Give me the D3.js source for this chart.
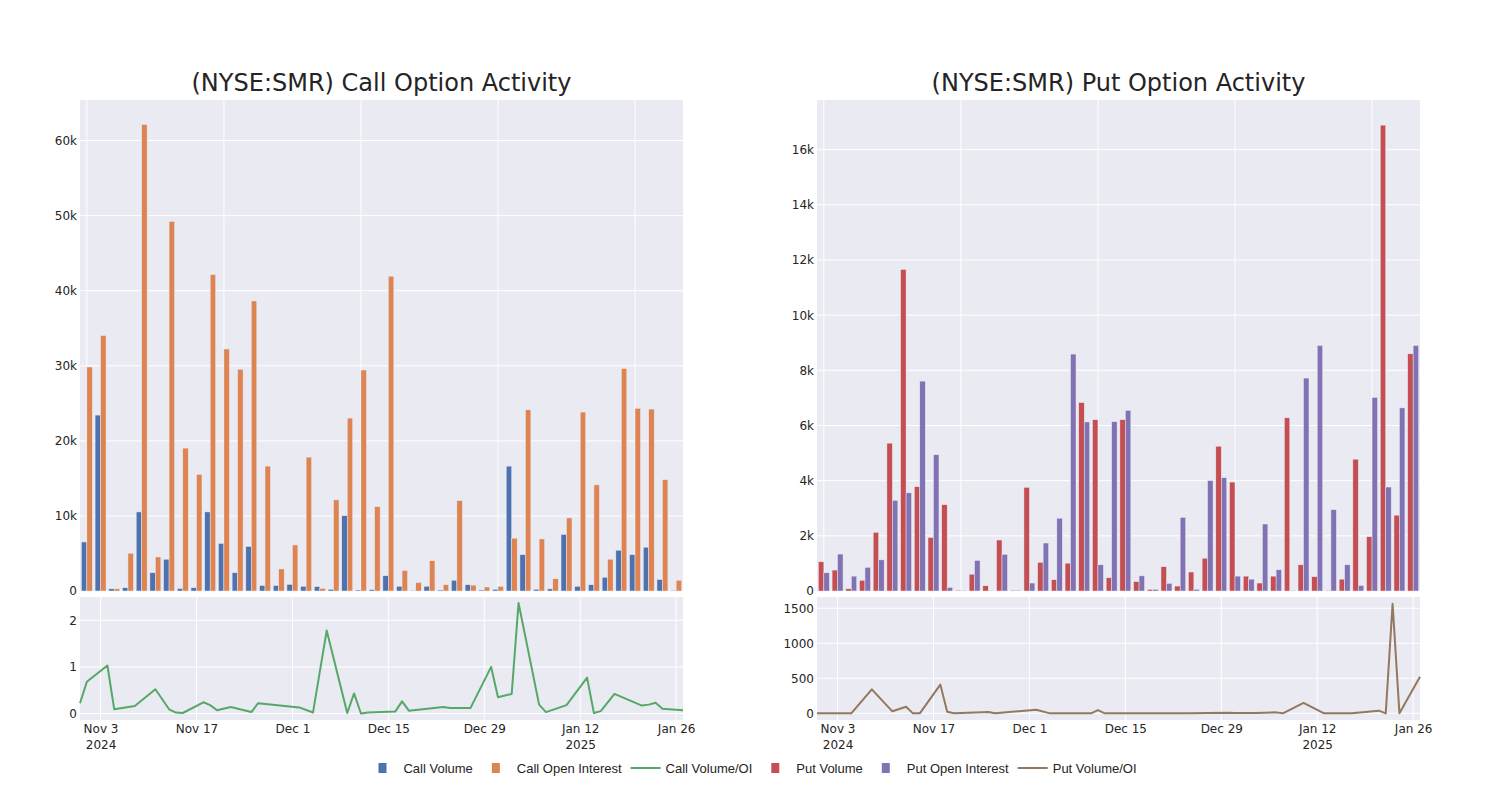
<!DOCTYPE html>
<html><head><meta charset="utf-8">
<script src="https://cdn.jsdelivr.net/npm/d3@7"></script>
<style>
body{margin:0;background:#fff}
svg text{font-family:"DejaVu Sans",Verdana,sans-serif;fill:rgb(36,36,36)}
</style>
</head><body>
<svg id="chart" width="1500" height="800"></svg>
<script>
// ---------- data ----------
const dates = ["2024-10-31","2024-11-01","2024-11-04","2024-11-05","2024-11-08","2024-11-11","2024-11-13","2024-11-14","2024-11-15","2024-11-18","2024-11-19","2024-11-20","2024-11-22","2024-11-25","2024-11-26","2024-12-02","2024-12-04","2024-12-06","2024-12-09","2024-12-10","2024-12-11","2024-12-12","2024-12-16","2024-12-17","2024-12-18","2024-12-23","2024-12-24","2024-12-27","2024-12-30","2024-12-31","2025-01-02","2025-01-03","2025-01-06","2025-01-07","2025-01-10","2025-01-13","2025-01-14","2025-01-15","2025-01-17","2025-01-21","2025-01-22","2025-01-23","2025-01-24","2025-01-27"];
const callVolume = [6500,23400,250,400,10500,2400,4200,300,400,10500,6300,2400,5900,700,700,850,600,550,200,10000,100,150,2000,600,50,600,100,1400,800,100,200,16600,4800,200,250,7500,600,800,1800,5400,4800,5800,1500,50];
const callOpenInterest = [29800,34000,250,5000,62100,4500,49200,19000,15500,42100,32200,29500,38600,16600,2900,6100,17800,310,12100,23000,29400,11200,41900,2700,1100,4000,800,12000,750,500,600,7000,24100,6900,1600,9700,23800,14100,4200,29600,24300,24200,14800,1400];
const callVolumeOI = [0.22,0.68,1.03,0.09,0.16,0.52,0.09,0.02,0.01,0.24,0.18,0.07,0.14,0.03,0.22,0.13,0.02,1.78,0.01,0.43,0.0,0.02,0.04,0.26,0.06,0.14,0.12,0.12,1.0,0.35,0.42,2.37,0.19,0.03,0.18,0.77,0.01,0.05,0.42,0.17,0.19,0.23,0.10,0.07];
const putVolume = [1050,750,70,380,2120,5350,11650,3770,1930,3120,20,600,180,1840,20,3750,1030,400,1000,6820,6200,470,6200,330,50,870,170,680,1180,5240,3940,530,280,530,6270,940,510,10,420,4770,1960,16880,2740,8590];
const putOpenInterest = [650,1330,530,850,1120,3280,3550,7600,4930,120,0,1100,0,1320,20,280,1730,2630,8580,6120,940,6130,6540,540,50,270,2660,50,3990,4100,530,420,2420,760,10,7710,8890,2940,940,190,7010,3760,6630,8890];
const putVolumeOI = [0,0,0,0,343,29,95,0,0,410,24,0,10,19,0,52,0,0,0,0,45,0,0,0,0,3,3,5,8,6,5,6,14,0,148,0,0,0,0,38,0,1565,0,524];

const dateTicks = ["2024-11-03","2024-11-17","2024-12-01","2024-12-15","2024-12-29","2025-01-12","2025-01-26"];
const callBarTicks = [0,10000,20000,30000,40000,50000,60000];
const putBarTicks = [0,2000,4000,6000,8000,10000,12000,14000,16000];
const callLineTicks = [0,1,2];
const putLineTicks = [0,500,1000,1500];
const categoryGridIdx = [0,10,20,30,40];
const titles = ["(NYSE:SMR) Call Option Activity","(NYSE:SMR) Put Option Activity"];
const legendLabels = ["Call Volume","Call Open Interest","Call Volume/OI","Put Volume","Put Open Interest","Put Volume/OI"];

// ---------- style ----------
const BG = "rgb(234,234,242)";
const COLORS = {cv:"rgb(76,114,176)", coi:"rgb(221,132,82)", cr:"rgb(85,168,104)",
                pv:"rgb(196,78,82)", poi:"rgb(129,114,179)", pr:"rgb(147,120,96)"};

const parse = d3.timeParse("%Y-%m-%d");
const dObjs = dates.map(parse);
const svg = d3.select("#chart");
svg.append("rect").attr("width",1500).attr("height",800).attr("fill","#fff");

const TOP0 = 100, TOP1 = 591, BOT0 = 597, BOT1 = 720;

function panel(cfg){
  const {x0,x1,title,vol,oi,ratio,cVol,cOi,cRatio,barMax,lineDom,barTicks,lineTicks,fmtBar,fmtLine} = cfg;
  // ---- top bars ----
  svg.append("rect").attr("x",x0).attr("y",TOP0).attr("width",x1-x0).attr("height",TOP1-TOP0).attr("fill",BG);
  const xb = d3.scaleBand().domain(d3.range(dates.length)).range([x0,x1]).paddingInner(0.2).paddingOuter(0.1);
  const xs = d3.scaleBand().domain([0,1]).range([0,xb.bandwidth()]);
  const yb = d3.scaleLinear().domain([0,barMax]).range([TOP1,TOP0]);
  const gt = svg.append("g");
  gt.selectAll("line.h").data(barTicks).join("line")
    .attr("x1",x0).attr("x2",x1).attr("y1",d=>yb(d)).attr("y2",d=>yb(d))
    .attr("stroke","#fff").attr("stroke-width",1);
  gt.selectAll("line.v").data(categoryGridIdx).join("line")
    .attr("x1",d=>xb(d)+xb.bandwidth()/2).attr("x2",d=>xb(d)+xb.bandwidth()/2)
    .attr("y1",TOP0).attr("y2",TOP1).attr("stroke","#fff").attr("stroke-width",1);
  const series = [[vol,cVol],[oi,cOi]];
  series.forEach(([arr,col],k)=>{
    gt.append("g").selectAll("rect").data(arr).join("rect")
      .attr("x",(d,i)=>xb(i)+xs(k)).attr("width",xs.bandwidth())
      .attr("y",d=>yb(d)-0.25).attr("height",d=>yb(0)-yb(d)+0.25)
      .attr("fill",col).attr("stroke",BG).attr("stroke-width",0.5);
  });
  const ay = svg.append("g").attr("transform",`translate(${x0},0)`)
    .call(d3.axisLeft(yb).tickValues(barTicks).tickFormat(fmtBar).tickSize(0).tickPadding(3));
  ay.select(".domain").remove();
  ay.selectAll("text").attr("font-size",12).attr("font-family","DejaVu Sans").style("fill","rgb(36,36,36)");

  // title
  svg.append("text").attr("x",(x0+x1)/2).attr("y",91).attr("text-anchor","middle")
    .attr("font-size",24).text(title);

  // ---- bottom line ----
  svg.append("rect").attr("x",x0).attr("y",BOT0).attr("width",x1-x0).attr("height",BOT1-BOT0).attr("fill",BG);
  const xt = d3.scaleTime().domain([dObjs[0],dObjs[dObjs.length-1]]).range([x0,x1]);
  const yl = d3.scaleLinear().domain(lineDom).range([BOT1,BOT0]);
  const gb = svg.append("g");
  gb.selectAll("line.h").data(lineTicks).join("line")
    .attr("x1",x0).attr("x2",x1).attr("y1",d=>yl(d)).attr("y2",d=>yl(d))
    .attr("stroke","#fff").attr("stroke-width",1);
  const tickD = dateTicks.map(parse);
  gb.selectAll("line.v").data(tickD).join("line")
    .attr("x1",d=>xt(d)).attr("x2",d=>xt(d)).attr("y1",BOT0).attr("y2",BOT1)
    .attr("stroke","#fff").attr("stroke-width",1);
  const line = d3.line().x((d,i)=>xt(dObjs[i])).y(d=>yl(d));
  gb.append("path").datum(ratio).attr("d",line).attr("fill","none")
    .attr("stroke",cRatio).attr("stroke-width",2).attr("stroke-linejoin","round");
  const ayl = svg.append("g").attr("transform",`translate(${x0},0)`)
    .call(d3.axisLeft(yl).tickValues(lineTicks).tickFormat(fmtLine).tickSize(0).tickPadding(3));
  ayl.select(".domain").remove();
  ayl.selectAll("text").attr("font-size",12).attr("font-family","DejaVu Sans").style("fill","rgb(36,36,36)");
  const ax = svg.append("g").attr("transform",`translate(0,${BOT1})`)
    .call(d3.axisBottom(xt).tickValues(tickD).tickSize(0).tickPadding(0));
  ax.select(".domain").remove();
  const fm = d3.timeFormat("%b %-d");
  ax.selectAll("text").attr("font-size",12).attr("font-family","DejaVu Sans").style("fill","rgb(36,36,36)")
    .attr("dy",null).attr("y",0)
    .each(function(d,i){
      const t = d3.select(this); t.text(null);
      t.append("tspan").attr("x",0).attr("y",13).text(fm(d));
      const prev = i>0 ? tickD[i-1] : null;
      if(i===0 || prev.getFullYear()!==d.getFullYear()){
        t.append("tspan").attr("x",0).attr("y",29).text(d.getFullYear());
      }
    });
}

panel({x0:80,x1:683,title:titles[0],vol:callVolume,oi:callOpenInterest,ratio:callVolumeOI,
  cVol:COLORS.cv,cOi:COLORS.coi,cRatio:COLORS.cr,barMax:65400,lineDom:[-0.14,2.5],
  barTicks:callBarTicks,lineTicks:callLineTicks,fmtBar:d=>d===0?"0":(d/1000)+"k",fmtLine:d3.format("d")});
panel({x0:817,x1:1420,title:titles[1],vol:putVolume,oi:putOpenInterest,ratio:putVolumeOI,
  cVol:COLORS.pv,cOi:COLORS.poi,cRatio:COLORS.pr,barMax:17800,lineDom:[-95,1661],
  barTicks:putBarTicks,lineTicks:putLineTicks,fmtBar:d=>d===0?"0":(d/1000)+"k",fmtLine:d3.format("d")});

// ---------- legend ----------
const legendTypes = ["bar","bar","line","bar","bar","line"];
const legendColors = [COLORS.cv,COLORS.coi,COLORS.cr,COLORS.pv,COLORS.poi,COLORS.pr];
const lg = svg.append("g");
let lx = 0;
const LY = 768, GAP = 4;
legendLabels.forEach((lab,i)=>{
  const item = lg.append("g").attr("transform",`translate(${lx},0)`);
  if(legendTypes[i]==="bar"){
    item.append("rect").attr("x",15).attr("y",LY-5).attr("width",8).attr("height",10).attr("fill",legendColors[i]);
  } else {
    item.append("line").attr("x1",5).attr("x2",35).attr("y1",LY).attr("y2",LY)
      .attr("stroke",legendColors[i]).attr("stroke-width",2);
  }
  const t = item.append("text").attr("x",40).attr("y",LY+4.5)
    .style("font-family","'Liberation Sans',Arial,sans-serif").style("font-size","13px").text(lab);
  lx += 40 + t.node().getComputedTextLength() + GAP;
});
lg.attr("transform",`translate(${750 - (lx-GAP)/2},0)`);
</script>
</body></html>
